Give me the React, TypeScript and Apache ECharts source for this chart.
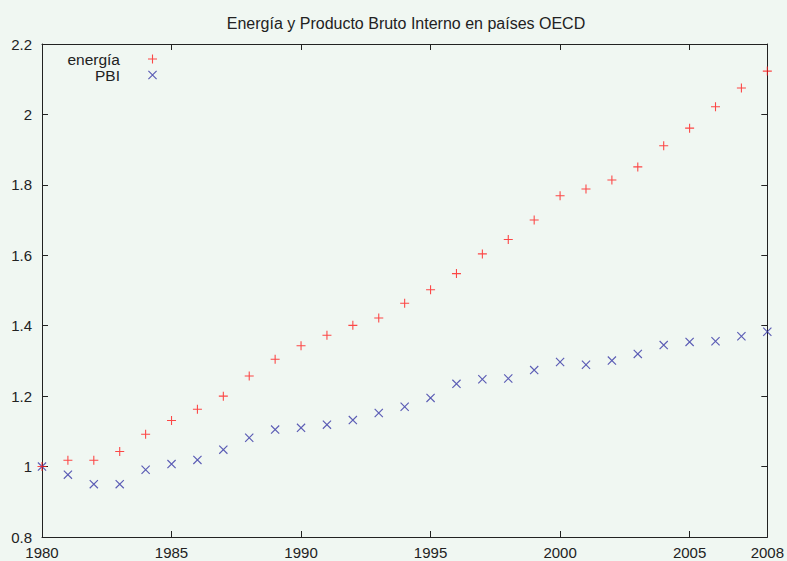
import React, { useEffect, useRef } from "react";
import * as echarts from "echarts";

const years = [1980, 1981, 1982, 1983, 1984, 1985, 1986, 1987, 1988, 1989, 1990, 1991, 1992, 1993, 1994, 1995, 1996, 1997, 1998, 1999, 2000, 2001, 2002, 2003, 2004, 2005, 2006, 2007, 2008];
const energia = [1.0, 1.018, 1.018, 1.043, 1.092, 1.131, 1.163, 1.2, 1.257, 1.305, 1.343, 1.373, 1.401, 1.422, 1.464, 1.502, 1.548, 1.604, 1.645, 1.7, 1.769, 1.788, 1.814, 1.851, 1.911, 1.961, 2.022, 2.075, 2.123];
const pbi = [1.0, 0.977, 0.95, 0.95, 0.991, 1.007, 1.019, 1.048, 1.082, 1.105, 1.11, 1.119, 1.132, 1.152, 1.17, 1.195, 1.235, 1.248, 1.25, 1.274, 1.297, 1.289, 1.301, 1.32, 1.345, 1.354, 1.356, 1.37, 1.383];
const titleText = "Energía y Producto Bruto Interno en países OECD";
const seriesNames = ["energía", "PBI"];

const PLUS = "path://M4.4,0h1.2v4.4h4.4v1.2h-4.4v4.4h-1.2v-4.4h-4.4v-1.2h4.4z";
const CROSS = "path://M0,0.9L0.9,0L10,9.1L9.1,10ZM10,0.9L0.9,10L0,9.1L9.1,0Z";

const FONT = "Liberation Sans, Arial, sans-serif";
const RED = "#ff1a1a";
const BLUE = "#3535a5";
const AXIS = "#222222";

export default function App() {
  const ref = useRef<HTMLDivElement>(null);
  useEffect(() => {
    if (!ref.current) return;
    const chart = echarts.init(ref.current, null, { renderer: "svg" });
    const axisCommon = {
      type: "value" as const,
      axisLine: { show: true, lineStyle: { color: AXIS, width: 1 } },
      axisTick: { show: true, inside: true, length: 6, lineStyle: { color: AXIS } },
      splitLine: { show: false },
    };
    const legendCommon = {
      align: "right" as const,
      right: 630,
      padding: 0,
      itemWidth: 55,
      itemHeight: 9,
      textStyle: { fontSize: 15.5, lineHeight: 16, color: AXIS, fontFamily: FONT },
    };
    chart.setOption({
      animation: false,
      backgroundColor: "#f0f7f2",
      textStyle: { fontFamily: FONT },
      title: {
        text: titleText,
        left: 401,
        top: 10,
        textAlign: "center",
        textStyle: { fontSize: 16, fontWeight: "normal", color: AXIS, fontFamily: FONT },
      },
      legend: [
        { ...legendCommon, data: [seriesNames[0]], top: 51 },
        { ...legendCommon, data: [seriesNames[1]], top: 67 },
      ],
      grid: { left: 42, right: 18, top: 44, bottom: 24 },
      xAxis: [
        {
          ...axisCommon,
          position: "bottom",
          min: 1980,
          max: 2008,
          interval: 5,
          axisLabel: {
            show: true,
            color: AXIS,
            fontSize: 15,
            margin: 8,
            fontFamily: FONT,
            showMaxLabel: true,
            showMinLabel: true,
            formatter: (v: number) => String(v),
          },
        },
        {
          ...axisCommon,
          position: "top",
          min: 1980,
          max: 2008,
          interval: 5,
          axisLabel: { show: false },
        },
      ],
      yAxis: [
        {
          ...axisCommon,
          position: "left",
          min: 0.8,
          max: 2.2,
          interval: 0.2,
          axisLabel: { show: true, color: AXIS, fontSize: 15, margin: 10, fontFamily: FONT },
        },
        {
          ...axisCommon,
          position: "right",
          min: 0.8,
          max: 2.2,
          interval: 0.2,
          axisLabel: { show: false },
        },
      ],
      series: [
        {
          name: seriesNames[0],
          type: "scatter",
          symbol: PLUS,
          symbolSize: 9,
          symbolKeepAspect: true,
          itemStyle: { color: RED },
          data: years.map((y, i) => [y, energia[i]]),
          z: 3,
        },
        {
          name: seriesNames[1],
          type: "scatter",
          symbol: CROSS,
          symbolSize: 9,
          symbolKeepAspect: true,
          itemStyle: { color: BLUE },
          data: years.map((y, i) => [y, pbi[i]]),
          z: 2,
        },
      ],
    });
    return () => chart.dispose();
  }, []);
  return <div ref={ref} style={{ width: 787, height: 561, position: "absolute", left: 0, top: 0 }} />;
}
